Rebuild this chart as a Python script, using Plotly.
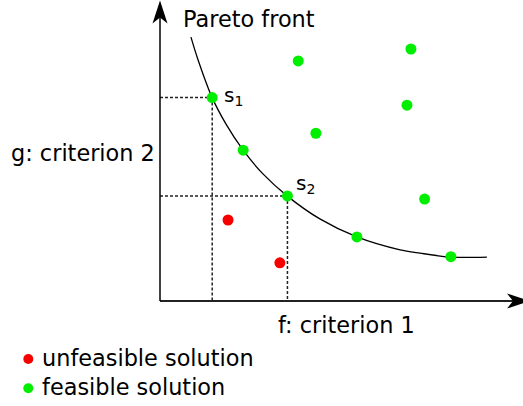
import plotly.graph_objects as go

# Solutions in objective space (f: criterion 1, g: criterion 2)
feasible_f = [3.84, 6.97, 1.45, 6.86, 4.33, 2.31, 3.54, 7.35, 5.47, 8.08]
feasible_g = [6.67, 7.00, 5.65, 5.44, 4.66, 4.19, 2.92, 2.83, 1.78, 1.23]
unfeasible_f = [1.89, 3.33]
unfeasible_g = [2.25, 1.06]

# Pareto front sampled along the curve
front_f = [0.86, 1.03, 1.44, 1.83, 2.31, 2.86, 3.53, 4.44, 5.47, 6.67, 7.22, 8.06, 9.08]
front_g = [7.33, 6.78, 5.67, 4.92, 4.19, 3.53, 2.92, 2.28, 1.78, 1.42, 1.33, 1.22, 1.22]

# Highlighted solutions on the front (index into the feasible list)
labelled = {"s<sub>1</sub>": 2, "s<sub>2</sub>": 6}

legend_labels = ["unfeasible solution", "feasible solution"]

GREEN = "#00ee00"
RED = "#f60000"
FONT = "DejaVu Sans"

W, H = 523, 406
PX = 36.0                 # pixels per unit
ORIGIN = (160.0, 301.0)   # pixel position of (0, 0)

x_range = [-ORIGIN[0] / PX, (W - ORIGIN[0]) / PX]
y_range = [-(H - ORIGIN[1]) / PX, ORIGIN[1] / PX]


def u(px):
    return px / PX


fig = go.Figure()

fig.add_trace(go.Scatter(
    x=front_f, y=front_g, mode="lines",
    line=dict(color="black", width=1.3, shape="spline", smoothing=0.8),
    hoverinfo="skip", showlegend=False,
))
fig.add_trace(go.Scatter(
    x=unfeasible_f, y=unfeasible_g, mode="markers",
    marker=dict(color=RED, size=11, line=dict(width=0)),
    name=legend_labels[0], showlegend=False,
))
fig.add_trace(go.Scatter(
    x=feasible_f, y=feasible_g, mode="markers",
    marker=dict(color=GREEN, size=11, line=dict(width=0)),
    name=legend_labels[1], showlegend=False,
))

shapes = []
annotations = []

# dotted projections of the highlighted solutions onto both axes
for label, i in labelled.items():
    fx, gy = feasible_f[i], feasible_g[i]
    dot = dict(type="line", xref="x", yref="y", layer="below",
               line=dict(color="#222222", width=1.5, dash="3px,2px"))
    shapes.append(dict(dot, x0=0, y0=gy, x1=fx, y1=gy))
    shapes.append(dict(dot, x0=fx, y0=gy, x1=fx, y1=0))

# axes with arrow heads
x_tip = u(W + 7 - ORIGIN[0])
y_tip = u(ORIGIN[1] - 0.5)
shapes.append(dict(type="line", xref="x", yref="y", x0=0, y0=0, x1=x_tip - u(12), y1=0,
                   line=dict(color="#222222", width=2)))
shapes.append(dict(type="line", xref="x", yref="y", x0=0, y0=0, x1=0, y1=y_tip - u(12),
                   line=dict(color="black", width=1.5)))
L, HW, NOTCH = u(23), u(7.5), u(17)
shapes.append(dict(
    type="path", xref="x", yref="y", fillcolor="black", line=dict(width=0),
    path=(f"M{x_tip},0 L{x_tip - L},{HW} L{x_tip - NOTCH},0 "
          f"L{x_tip - L},{-HW} Z"),
))
shapes.append(dict(
    type="path", xref="x", yref="y", fillcolor="black", line=dict(width=0),
    path=(f"M0,{y_tip} L{-HW},{y_tip - L} L0,{y_tip - NOTCH} "
          f"L{HW},{y_tip - L} Z"),
))

# labels of the highlighted solutions
shifts = {"s<sub>1</sub>": (10, 2), "s<sub>2</sub>": (7, 12)}
for label, i in labelled.items():
    dx, dy = shifts[label]
    annotations.append(dict(
        x=feasible_f[i], y=feasible_g[i], xref="x", yref="y", text=label,
        showarrow=False, xanchor="left", yanchor="middle", xshift=dx, yshift=dy,
        font=dict(family=FONT, size=20, color="black"),
    ))

text_font = dict(family=FONT, size=22.4, color="black")
annotations.append(dict(x=u(181 - ORIGIN[0]), y=u(ORIGIN[1] - 19), xref="x", yref="y",
                        text="Pareto front", showarrow=False, xanchor="left",
                        yanchor="middle", font=text_font))
annotations.append(dict(x=0, y=u(ORIGIN[1] - 153), xref="x", yref="y",
                        text="g: criterion 2", showarrow=False, xanchor="right",
                        yanchor="middle", xshift=-3, font=text_font))
annotations.append(dict(x=u(346.5 - ORIGIN[0]), y=u(ORIGIN[1] - 325), xref="x", yref="y",
                        text="f: criterion 1", showarrow=False, xanchor="center",
                        yanchor="middle", font=text_font))

# legend drawn below the plot
legend_colors = [RED, GREEN]
for k, (name, col) in enumerate(zip(legend_labels, legend_colors)):
    cy = 359.0 + 29.3 * k
    cx = 28.3
    r = 5
    shapes.append(dict(type="circle", xref="paper", yref="paper",
                       x0=(cx - r) / W, x1=(cx + r) / W,
                       y0=1 - (cy + r) / H, y1=1 - (cy - r) / H,
                       fillcolor=col, line=dict(width=0)))
    annotations.append(dict(x=40 / W, y=1 - (cy - 1) / H, xref="paper", yref="paper",
                            text=name, showarrow=False, xanchor="left",
                            yanchor="middle", font=text_font))

fig.update_layout(
    width=W, height=H, autosize=False,
    margin=dict(l=0, r=0, t=0, b=0, pad=0),
    paper_bgcolor="white", plot_bgcolor="white",
    xaxis=dict(range=x_range, visible=False, fixedrange=True),
    yaxis=dict(range=y_range, visible=False, fixedrange=True),
    shapes=shapes, annotations=annotations,
    showlegend=False,
)

fig.write_html("out.html")
